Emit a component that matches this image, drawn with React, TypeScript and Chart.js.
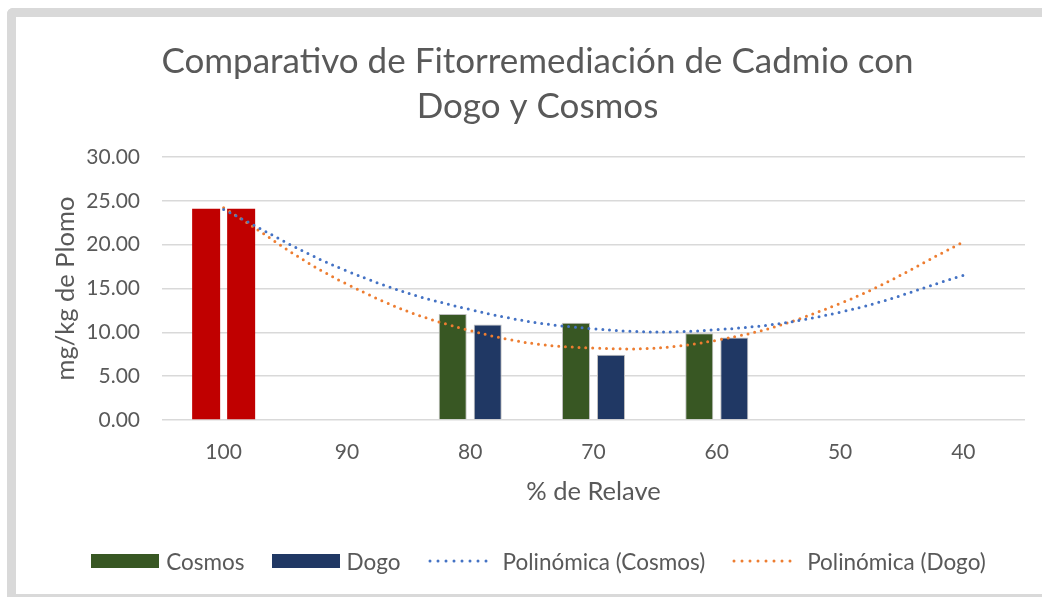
import React, { useEffect, useRef } from 'react';
import { Chart, registerables } from 'chart.js';

Chart.register(...registerables);

const categories = ['100', '90', '80', '70', '60', '50', '40'];
const cosmosValues = [24.1, null, 12.1, 11.1, 9.9, null, null];
const dogoValues = [24.1, null, 10.9, 7.45, 9.4, null, null];
const cosmosTrend = [24.0, 17.0, 12.6, 10.4, 10.3, 12.3, 16.5];
const dogoTrend = [24.2, 15.5, 10.2, 8.2, 9.1, 13.3, 20.3];
const titleLines = ['Comparativo de Fitorremediación de Cadmio con', 'Dogo y Cosmos'];
const xAxisTitle = '% de Relave';
const yAxisTitle = 'mg/kg de Plomo';
const legendLabels = ['Cosmos', 'Dogo', 'Polinómica (Cosmos)', 'Polinómica (Dogo)'];

const RED = '#C00000';
const GREEN = '#385723';
const NAVY = '#203864';
const BLUE = '#4472C4';
const ORANGE = '#ED7D31';
const TEXT = '#595959';
const GRID = '#d9d9d9';
const FONT = 'Lato';

const cosmosColors = categories.map((_, i) => (i === 0 ? RED : GREEN));
const dogoColors = categories.map((_, i) => (i === 0 ? RED : NAVY));

function BoxMarker({ color }: { color: string }) {
  return <span style={{ display: 'inline-block', width: 68, height: 14, background: color }} />;
}

function DotMarker({ color }: { color: string }) {
  return (
    <svg width={68} height={14} style={{ display: 'block' }}>
      <line x1={2} y1={7} x2={66} y2={7} stroke={color} strokeWidth={3} strokeLinecap="round" strokeDasharray="0 8" />
    </svg>
  );
}

export default function App() {
  const ref = useRef<HTMLCanvasElement>(null);

  useEffect(() => {
    let chart: Chart | null = null;
    let cancelled = false;
    const build = () => {
      if (cancelled || !ref.current) return;
      chart = new Chart(ref.current, {
        type: 'bar',
        data: {
          labels: categories,
          datasets: [
            {
              type: 'line',
              label: legendLabels[2],
              data: cosmosTrend,
              borderColor: BLUE,
              borderWidth: 3,
              borderDash: [0, 6.8],
              borderCapStyle: 'round',
              pointRadius: 0,
              tension: 0.4,
              fill: false,
              order: 1,
            } as any,
            {
              type: 'line',
              label: legendLabels[3],
              data: dogoTrend,
              borderColor: ORANGE,
              borderWidth: 3,
              borderDash: [0, 6.8],
              borderCapStyle: 'round',
              pointRadius: 0,
              tension: 0.4,
              fill: false,
              order: 1,
            } as any,
            {
              type: 'bar',
              label: legendLabels[0],
              data: cosmosValues,
              backgroundColor: cosmosColors,
              borderColor: '#bfbfbf',
              borderWidth: (c: any) => (c.dataIndex === 0 ? 0 : 1),
              categoryPercentage: 0.568,
              barPercentage: 0.8,
              order: 2,
            } as any,
            {
              type: 'bar',
              label: legendLabels[1],
              data: dogoValues,
              backgroundColor: dogoColors,
              borderColor: '#bfbfbf',
              borderWidth: (c: any) => (c.dataIndex === 0 ? 0 : 1),
              categoryPercentage: 0.568,
              barPercentage: 0.8,
              order: 2,
            } as any,
          ],
        },
        options: {
          animation: false,
          responsive: false,
          layout: { padding: { left: 34, right: 17, top: 0, bottom: 74 } },
          plugins: {
            legend: { display: false },
            tooltip: { enabled: false },
            title: {
              display: true,
              text: titleLines,
              color: TEXT,
              font: { family: FONT, size: 35, weight: 'normal', lineHeight: 45 / 35 },
              padding: { top: 22.5, bottom: 27.5 },
            },
          },
          scales: {
            x: {
              grid: { display: false, drawTicks: false },
              border: { display: false },
              ticks: {
                color: TEXT,
                font: { family: FONT, size: 21 },
                padding: 20,
                autoSkip: false,
                maxRotation: 0,
              },
              title: {
                display: true,
                text: xAxisTitle,
                color: TEXT,
                font: { family: FONT, size: 25.5, lineHeight: 1.2 },
                padding: { top: 0, bottom: 13 },
              },
              afterFit: (s: any) => {
                s.height = 100;
              },
            },
            y: {
              min: 0,
              max: 30,
              ticks: {
                stepSize: 5,
                color: TEXT,
                font: { family: FONT, size: 21 },
                padding: 22,
                callback: (v: any) => Number(v).toFixed(2),
              },
              grid: { color: GRID, lineWidth: 1.5, drawTicks: false },
              border: { display: false },
              title: {
                display: true,
                text: yAxisTitle,
                color: TEXT,
                font: { family: FONT, size: 25.5, lineHeight: 1.2 },
                padding: { top: 0, bottom: 0 },
              },
              afterFit: (s: any) => {
                s.width = 112;
              },
            },
          },
        } as any,
      });
    };
    Promise.all([
      document.fonts.load(`21px ${FONT}`),
      document.fonts.load(`35px ${FONT}`),
    ])
      .catch(() => undefined)
      .then(build);
    return () => {
      cancelled = true;
      if (chart) chart.destroy();
    };
  }, []);

  const legendItems = [
    { label: legendLabels[0], marker: <BoxMarker color={GREEN} /> },
    { label: legendLabels[1], marker: <BoxMarker color={NAVY} /> },
    { label: legendLabels[2], marker: <DotMarker color={BLUE} /> },
    { label: legendLabels[3], marker: <DotMarker color={ORANGE} /> },
  ];

  return (
    <div
      style={{
        position: 'fixed',
        left: 7,
        top: 8,
        width: 1035,
        height: 589,
        boxSizing: 'border-box',
        borderLeft: `9px solid ${GRID}`,
        borderTop: `9px solid ${GRID}`,
        borderBottom: `3px solid ${GRID}`,
        borderTopLeftRadius: 6,
        background: '#fff',
        overflow: 'hidden',
      }}
    >
      <canvas ref={ref} width={1026} height={577} style={{ position: 'absolute', left: 0, top: 0, width: 1026, height: 577 }} />
      <div
        style={{
          position: 'absolute',
          left: 0,
          top: 530,
          width: 1026,
          height: 28,
          paddingLeft: 19,
          boxSizing: 'border-box',
          display: 'flex',
          justifyContent: 'center',
          alignItems: 'center',
          gap: 27,
          fontFamily: FONT,
          fontSize: 22.5,
          color: TEXT,
          whiteSpace: 'nowrap',
        }}
      >
        {legendItems.map((it) => (
          <div key={it.label} style={{ display: 'flex', alignItems: 'center', gap: 7 }}>
            {it.marker}
            <span>{it.label}</span>
          </div>
        ))}
      </div>
    </div>
  );
}
